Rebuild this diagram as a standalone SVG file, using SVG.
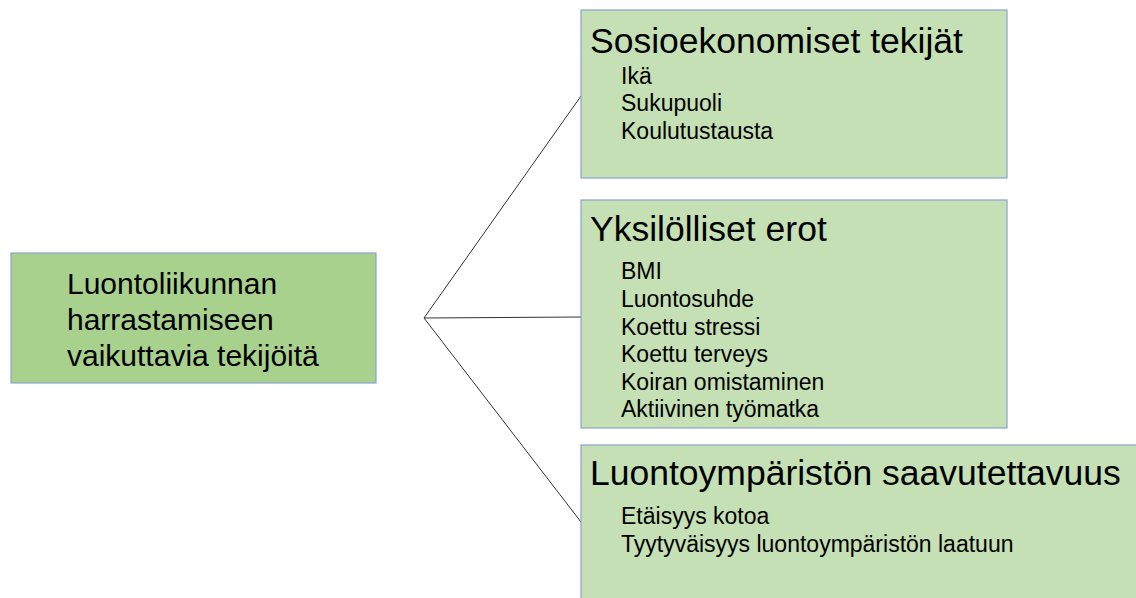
<svg xmlns="http://www.w3.org/2000/svg" width="1136" height="598" viewBox="0 0 1136 598">
<style>
.box{stroke:#8BA3CF;stroke-width:1.2}
.main{fill:#A9D18E}
.sub{fill:#C5E0B4}
text{font-family:"Liberation Sans",Arial,sans-serif;fill:#000}
.t{font-size:35.5px}
.i{font-size:23px}
.m{font-size:30px}
.c{stroke:#333;stroke-width:1;fill:none}
</style>
<rect width="1136" height="598" fill="#fff"/>
<g id="connectors">
<line class="c" x1="424" y1="318" x2="581" y2="96"/>
<line class="c" x1="424" y1="318" x2="581" y2="317"/>
<line class="c" x1="424" y1="318" x2="581" y2="522"/>
</g>
<g id="node-main">
<rect class="box main" x="11" y="253" width="365" height="130"/>
<text class="m" x="67" y="294">Luontoliikunnan</text>
<text class="m" x="67" y="330">harrastamiseen</text>
<text class="m" x="67" y="366">vaikuttavia tekijöitä</text>
</g>
<g id="node-socio">
<rect class="box sub" x="581" y="10" width="426" height="168"/>
<text class="t" x="590" y="53">Sosioekonomiset tekijät</text>
<text class="i" x="621" y="84">Ikä</text>
<text class="i" x="621" y="111">Sukupuoli</text>
<text class="i" x="621" y="139">Koulutustausta</text>
</g>
<g id="node-individual">
<rect class="box sub" x="581" y="200" width="426" height="228"/>
<text class="t" x="590" y="241">Yksilölliset erot</text>
<text class="i" x="621" y="279">BMI</text>
<text class="i" x="621" y="307">Luontosuhde</text>
<text class="i" x="621" y="335">Koettu stressi</text>
<text class="i" x="621" y="362">Koettu terveys</text>
<text class="i" x="621" y="390">Koiran omistaminen</text>
<text class="i" x="621" y="417">Aktiivinen työmatka</text>
</g>
<g id="node-access">
<rect class="box sub" x="581" y="445" width="570" height="170"/>
<text class="t" x="590" y="485">Luontoympäristön saavutettavuus</text>
<text class="i" x="621" y="524">Etäisyys kotoa</text>
<text class="i" x="621" y="552">Tyytyväisyys luontoympäristön laatuun</text>
</g>
</svg>
